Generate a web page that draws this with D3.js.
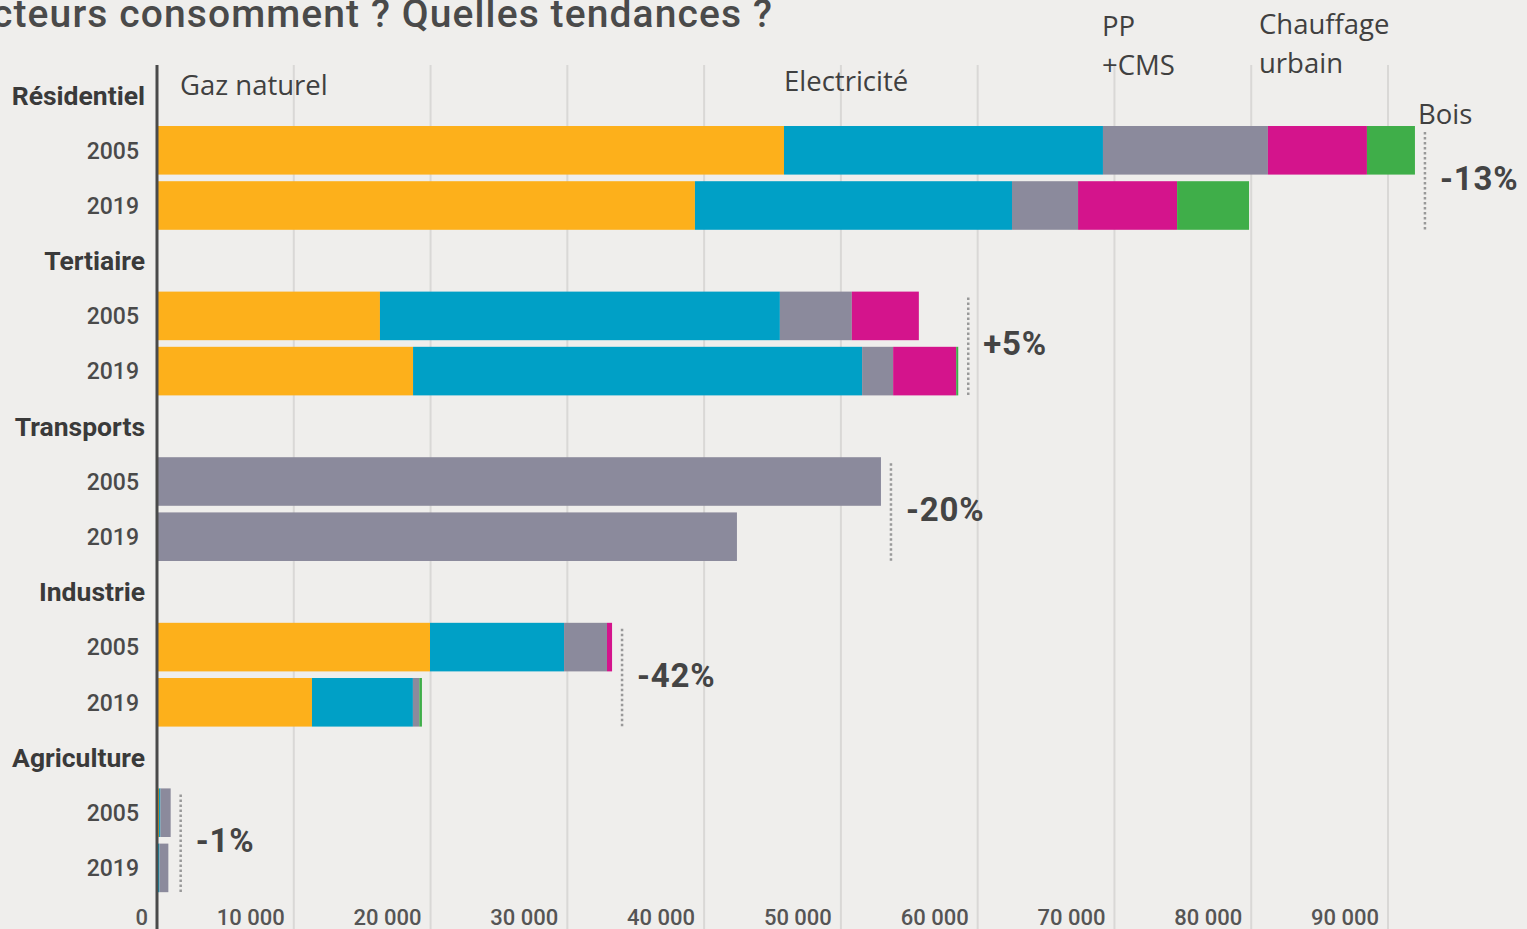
<!DOCTYPE html>
<html>
<head>
<meta charset="utf-8">
<script src="https://cdn.jsdelivr.net/npm/d3@7"></script>
<style>
  body { margin: 0; background: #efeeec; }
  svg { display: block; }
</style>
</head>
<body>
<div id="chart"></div>
<script>
// values (GWh / year, roughly)
var sectors = ["Résidentiel", "Tertiaire", "Transports", "Industrie", "Agriculture"];
var years = ["2005", "2019"];
var energies = ["Gaz naturel", "Electricité", "PP +CMS", "Chauffage urbain", "Bois"];

// one value per sector/year : Rés 05, Rés 19, Ter 05, Ter 19, Tra 05, Tra 19, Ind 05, Ind 19, Agr 05, Agr 19
var gaz       = [45840, 39330, 16300, 18720, 0, 0, 19960, 11330, 150, 0];
var elec      = [23320, 23180, 29240, 32830, 0, 0, 9800, 7380, 100, 180];
var pp        = [12060, 4830, 5260, 2270, 52930, 42400, 3140, 470, 750, 650];
var chauffage = [7240, 7240, 4900, 4610, 0, 0, 370, 0, 0, 0];
var bois      = [3510, 5260, 0, 150, 0, 0, 0, 190, 0, 0];

var trends = ["-13%", "+5%", "-20%", "-42%", "-1%"];
var tickValues = [0, 10000, 20000, 30000, 40000, 50000, 60000, 70000, 80000, 90000];

var colors = ["#fdb01b", "#00a0c6", "#8b8a9c", "#d4148c", "#3fae49"];

var width = 1527,
    height = 929;

// build rows
var rows = [];
var rowKeys = [];
sectors.forEach((s, i) => {
    rowKeys.push(s + "|label");
    years.forEach((y, j) => {
        let k = i * 2 + j;
        rows.push({
            sector: s, year: y, key: s + "|" + y,
            gaz: gaz[k], elec: elec[k], pp: pp[k], chauffage: chauffage[k], bois: bois[k]
        });
        rowKeys.push(s + "|" + y);
    });
});

var keys = ["gaz", "elec", "pp", "chauffage", "bois"];
var series = d3.stack().keys(keys)(rows);

var x = d3.scaleLinear()
    .domain([0, 90000])
    .range([157, 1388]);

var y = d3.scaleBand()
    .domain(rowKeys)
    .range([67.5, 895.5])
    .paddingInner(0.12)
    .paddingOuter(0.06);

var svg = d3.select("#chart")
    .append("svg")
    .attr("width", width)
    .attr("height", height);

// title (only the visible end of the slide title)
svg.append("text")
    .attr("x", 773)
    .attr("y", 27)
    .attr("text-anchor", "end")
    .style("font-family", "Roboto")
    .style("font-weight", 500)
    .style("font-size", "39px")
    .style("letter-spacing", "1.1px")
    .style("fill", "#4a4a4a")
    .text("cteurs consomment ? Quelles tendances ?");

// grid
svg.append("g")
    .selectAll("line")
    .data(tickValues.slice(1))
    .join("line")
    .attr("x1", d => x(d))
    .attr("x2", d => x(d))
    .attr("y1", 65)
    .attr("y2", height)
    .attr("stroke", "#d9d8d6")
    .attr("stroke-width", 2);

// tick labels
svg.append("g")
    .selectAll("text")
    .data(tickValues)
    .join("text")
    .attr("x", d => x(d) - 9)
    .attr("y", 925)
    .attr("text-anchor", "end")
    .style("font-family", "Roboto")
    .style("font-weight", 500)
    .style("font-size", "22px")
    .style("fill", "#555")
    .text(d => d3.format(",")(d).replace(/,/g, " "));

// bars
svg.append("g")
    .selectAll("g")
    .data(series)
    .join("g")
    .attr("fill", (d, i) => colors[i])
    .selectAll("rect")
    .data(d => d)
    .join("rect")
    .attr("x", d => x(d[0]))
    .attr("y", d => y(d.data.key))
    .attr("width", d => Math.max(0, x(d[1]) - x(d[0])))
    .attr("height", y.bandwidth());

// y axis line
svg.append("line")
    .attr("x1", x(0))
    .attr("x2", x(0))
    .attr("y1", 65)
    .attr("y2", height)
    .attr("stroke", "#4a4a4a")
    .attr("stroke-width", 3);

// sector labels
svg.append("g")
    .selectAll("text")
    .data(sectors)
    .join("text")
    .attr("x", 145)
    .attr("y", d => y(d + "|label") + y.bandwidth() / 2)
    .attr("dy", "0.36em")
    .attr("text-anchor", "end")
    .style("font-family", "Roboto")
    .style("font-weight", 700)
    .style("font-size", "26.5px")
    .style("fill", "#3a3a3a")
    .text(d => d);

// year labels
svg.append("g")
    .selectAll("text")
    .data(rows)
    .join("text")
    .attr("x", 139)
    .attr("y", d => y(d.key) + y.bandwidth() / 2)
    .attr("dy", "0.36em")
    .attr("text-anchor", "end")
    .style("font-family", "Roboto")
    .style("font-weight", 500)
    .style("font-size", "23px")
    .style("fill", "#4a4a4a")
    .text(d => d.year);

// trend annotations
let totals = rows.map(r => keys.reduce((a, k) => a + r[k], 0));
let trendG = svg.append("g");
sectors.forEach((s, i) => {
    let maxTotal = Math.max(totals[i * 2], totals[i * 2 + 1]);
    let lx = x(maxTotal) + 10;
    let y0 = y(s + "|2005") + 6;
    let y1 = y(s + "|2019") + y.bandwidth();
    trendG.append("line")
        .attr("x1", lx).attr("x2", lx)
        .attr("y1", y0).attr("y2", y1)
        .attr("stroke", "#999")
        .attr("stroke-width", 2.5)
        .attr("stroke-dasharray", "2.5,2.5");
    let mid = (y(s + "|2005") + y.bandwidth() + y(s + "|2019")) / 2;
    trendG.append("text")
        .attr("x", lx + 15)
        .attr("y", mid)
        .attr("dy", "0.36em")
        .style("font-family", "Roboto")
        .style("font-weight", 700)
        .style("font-size", "33px")
        .style("letter-spacing", "0.8px")
        .style("fill", "#444")
        .text(trends[i]);
});

// energy legend labels, placed over the top of the chart as in the slide
var legendPos = [
    {lines: ["Gaz naturel"], x: 180, y: 95},
    {lines: ["Electricité"], x: 784, y: 91},
    {lines: ["PP", "+CMS"], x: 1102, y: 36},
    {lines: ["Chauffage", "urbain"], x: 1259, y: 34},
    {lines: ["Bois"], x: 1418, y: 124}
];
let legendG = svg.append("g")
    .style("font-family", "'Open Sans'")
    .style("font-size", "27.5px")
    .style("fill", "#404040");
energies.forEach((e, i) => {
    let p = legendPos[i];
    let t = legendG.append("text")
        .attr("x", p.x)
        .attr("y", p.y);
    p.lines.forEach((l, j) => {
        t.append("tspan")
            .attr("x", p.x)
            .attr("dy", j === 0 ? 0 : 39)
            .text(l);
    });
});
</script>
</body>
</html>
